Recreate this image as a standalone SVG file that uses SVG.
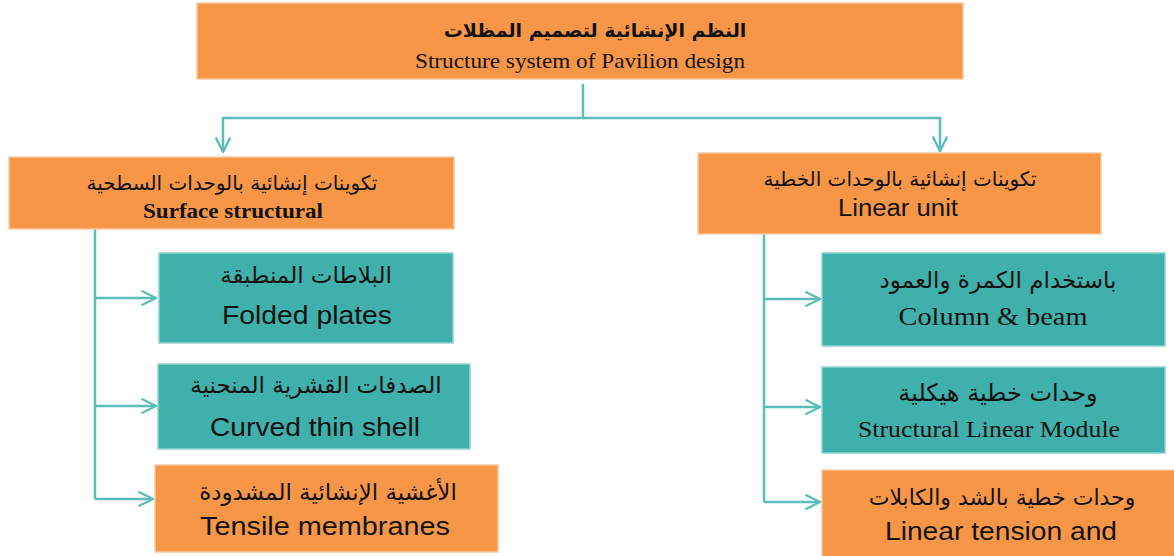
<svg xmlns="http://www.w3.org/2000/svg" width="1174" height="556" viewBox="0 0 1174 556">
  <defs>
    <style>
      .orange { fill: #F79646; stroke: #FBC9A2; stroke-width: 1.5; }
      .teal { fill: #3FB0AC; stroke: #8FD3CF; stroke-width: 1.5; }
      .ar { font-family: "DejaVu Sans", "Noto Sans", sans-serif; direction: rtl; text-anchor: middle; fill: #111; }
      .en-serif { font-family: "Liberation Serif", "Times New Roman", serif; text-anchor: middle; fill: #111; }
      .en-sans { font-family: "Liberation Sans", Arial, sans-serif; text-anchor: middle; fill: #111; }
      .conn { fill: none; stroke: #5BBDB8; stroke-width: 2.5; }
    </style>
    <marker id="open-arrow" viewBox="0 0 12 12" refX="11" refY="6" markerWidth="7" markerHeight="7" markerUnits="strokeWidth" orient="auto">
      <path d="M1,1 L11,6 L1,11" fill="none" stroke="#5BBDB8" stroke-width="1.6"/>
    </marker>
  </defs>

  <!-- connectors -->
  <g id="connectors" class="conn">
    <path d="M583,84 V118 H223 V152" marker-end="url(#open-arrow)"/>
    <path d="M583,118 H940 V151" marker-end="url(#open-arrow)"/>
    <path d="M95,229 V499"/>
    <path d="M95,298 H156" marker-end="url(#open-arrow)"/>
    <path d="M95,406 H156" marker-end="url(#open-arrow)"/>
    <path d="M95,499 H153" marker-end="url(#open-arrow)"/>
    <path d="M764,234 V502"/>
    <path d="M764,299 H820" marker-end="url(#open-arrow)"/>
    <path d="M764,407 H820" marker-end="url(#open-arrow)"/>
    <path d="M764,502 H820" marker-end="url(#open-arrow)"/>
  </g>

  <!-- root -->
  <g id="root">
    <rect class="orange" x="197" y="3" width="766" height="76"/>
    <text class="ar" x="595" y="37" font-size="19" font-weight="bold">النظم الإنشائية لتصميم المظلات</text>
    <text class="en-serif" x="580" y="68" font-size="22" textLength="330" lengthAdjust="spacingAndGlyphs">Structure system of Pavilion design</text>
  </g>

  <!-- surface branch -->
  <g id="surface">
    <rect class="orange" x="9" y="157" width="445" height="72"/>
    <text class="ar" x="232" y="190" font-size="20">تكوينات إنشائية بالوحدات السطحية</text>
    <text class="en-serif" x="233" y="218" font-size="22" font-weight="bold" textLength="180" lengthAdjust="spacingAndGlyphs">Surface structural</text>
  </g>

  <g id="folded-plates">
    <rect class="teal" x="159" y="253" width="294" height="90"/>
    <text class="ar" x="306" y="283" font-size="23">البلاطات المنطبقة</text>
    <text class="en-sans" x="307" y="324" font-size="25" textLength="170" lengthAdjust="spacingAndGlyphs">Folded plates</text>
  </g>

  <g id="curved-shell">
    <rect class="teal" x="158" y="364" width="312" height="85"/>
    <text class="ar" x="316" y="393" font-size="23">الصدفات القشرية المنحنية</text>
    <text class="en-sans" x="315" y="436" font-size="25" textLength="210" lengthAdjust="spacingAndGlyphs">Curved thin shell</text>
  </g>

  <g id="tensile-membranes">
    <rect class="orange" x="155" y="465" width="343" height="87"/>
    <text class="ar" x="328" y="500" font-size="23">الأغشية الإنشائية المشدودة</text>
    <text class="en-sans" x="325" y="535" font-size="25" textLength="250" lengthAdjust="spacingAndGlyphs">Tensile membranes</text>
  </g>

  <!-- linear branch -->
  <g id="linear">
    <rect class="orange" x="698" y="153" width="403" height="81"/>
    <text class="ar" x="900" y="186" font-size="20">تكوينات إنشائية بالوحدات الخطية</text>
    <text class="en-sans" x="898" y="216" font-size="23" textLength="120" lengthAdjust="spacingAndGlyphs">Linear unit</text>
  </g>

  <g id="column-beam">
    <rect class="teal" x="822" y="253" width="343" height="93"/>
    <text class="ar" x="998" y="288" font-size="23">باستخدام الكمرة والعمود</text>
    <text class="en-serif" x="993" y="325" font-size="25" textLength="189" lengthAdjust="spacingAndGlyphs">Column &amp; beam</text>
  </g>

  <g id="linear-module">
    <rect class="teal" x="822" y="367" width="343" height="86"/>
    <text class="ar" x="998" y="401" font-size="24">وحدات خطية هيكلية</text>
    <text class="en-serif" x="989" y="437" font-size="23" textLength="262" lengthAdjust="spacingAndGlyphs">Structural Linear Module</text>
  </g>

  <g id="linear-tension">
    <rect class="orange" x="822" y="470" width="360" height="90"/>
    <text class="ar" x="1002" y="505" font-size="22">وحدات خطية بالشد والكابلات</text>
    <text class="en-sans" x="1001" y="540" font-size="25" textLength="232" lengthAdjust="spacingAndGlyphs">Linear tension and</text>
  </g>
</svg>
